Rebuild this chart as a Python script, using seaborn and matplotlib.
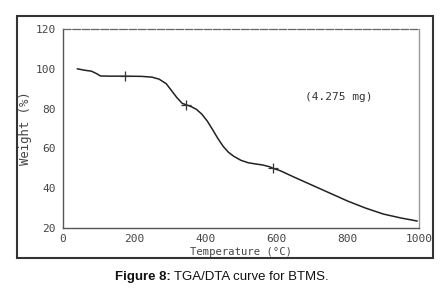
import matplotlib
matplotlib.use("Agg")
import matplotlib.pyplot as plt
import seaborn as sns
import pandas as pd
from matplotlib.patches import Rectangle
from matplotlib.ticker import MultipleLocator

temperature = [40, 60, 80, 95, 105, 130, 170, 220, 250, 270, 290, 305, 320, 335, 345,
               360, 375, 390, 405, 420, 435, 450, 465, 480, 500, 520, 540, 560, 580, 590,
               610, 650, 700, 750, 800, 850, 900, 950, 980, 995]
weight = [100, 99.3, 98.8, 97.5, 96.4, 96.3, 96.3, 96.2, 95.8, 94.8, 92.5, 89, 85.5, 82.6, 82,
          81, 79.6, 77.2, 73.8, 69.5, 65, 61, 58, 56, 54, 52.8, 52.2, 51.7, 50.8, 50,
          48.8, 45.5, 41.5, 37.5, 33.5, 30, 27, 25, 24, 23.5]
marker_temp = [174, 345, 590]
marker_weight = [96.3, 82, 50]
x_ticks = [0, 200, 400, 600, 800, 1000]
y_ticks = [20, 40, 60, 80, 100, 120]

sns.set_style("white")
plt.rcParams['font.family'] = ['DejaVu Sans Mono']

fig = plt.figure(figsize=(4.48, 3.03), dpi=100)
ax = fig.add_axes([63/448, 1-228/303, (419-63)/448, (228-29)/303])

df = pd.DataFrame({"T": temperature, "W": weight})
sns.lineplot(data=df, x="T", y="W", ax=ax, sort=False, color="#222222", lw=1.1)
sns.scatterplot(x=marker_temp, y=marker_weight, ax=ax, marker="+", s=45,
                color="#333333", linewidth=0.9, zorder=5)

ax.set_xlim(0, 1000)
ax.set_ylim(20, 120)
ax.set_xticks(x_ticks)
ax.set_yticks(y_ticks)
ax.xaxis.set_minor_locator(MultipleLocator(100))
ax.yaxis.set_minor_locator(MultipleLocator(10))
tc = "#555555"
ax.tick_params(axis="x", which="major", direction="in", length=4, width=0.8, color=tc,
               labelsize=8, labelcolor="#444444", pad=4)
ax.tick_params(axis="x", which="minor", direction="in", length=2.5, width=0.8, color=tc)
ax.tick_params(axis="y", which="major", direction="out", length=4, width=0.8, color=tc,
               labelsize=8, labelcolor="#444444", pad=1)
ax.tick_params(axis="y", which="minor", direction="out", length=2, width=0.8, color=tc)
ax.set_xticklabels([str(v) for v in x_ticks])
ax.set_yticklabels([str(v) for v in y_ticks])
for s in ["left", "bottom"]:
    ax.spines[s].set_color("#555555")
    ax.spines[s].set_linewidth(1.0)
ax.spines["top"].set_color("#666666")
ax.spines["top"].set_linestyle((0, (6, 1.5)))
ax.spines["top"].set_linewidth(0.9)
ax.spines["right"].set_color("#999999")
ax.spines["right"].set_linewidth(1.0)

ax.set_xlabel("Temperature (°C)", fontsize=7.6, color="#444444")
ax.xaxis.set_label_coords(0.5, -(247-228)/199)
ax.set_ylabel("Weight (%)", fontsize=8.8, color="#444444")
ax.yaxis.set_label_coords(-(63-32)/356, 0.5)
ax.text(680, 86, "(4.275 mg)", fontsize=8, color="#333333", va="center", ha="left")

fig.patches.append(Rectangle((17/448, 1-258/303), (433-17)/448, (258-16)/303,
                             transform=fig.transFigure, fill=False,
                             edgecolor="#333333", linewidth=1.5, zorder=10))

fig.text(171/448, 1-277/303, "Figure 8:", fontsize=9.5, fontweight="bold",
         family="Liberation Sans", ha="right", va="center", color="#111111")
fig.text(174/448, 1-277/303, "TGA/DTA curve for BTMS.", fontsize=9.5,
         family="Liberation Sans", ha="left", va="center", color="#111111")

fig.savefig("out.png", dpi=100, facecolor="white")
